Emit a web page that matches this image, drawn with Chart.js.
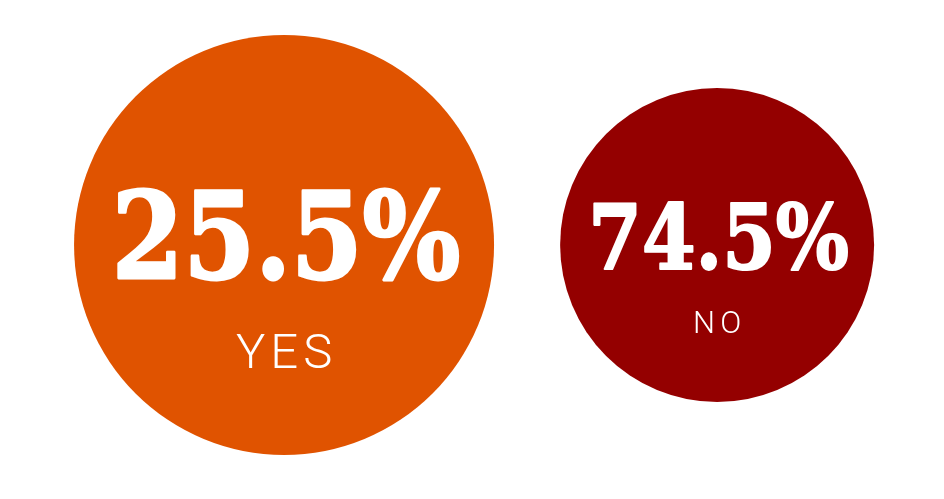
<!DOCTYPE html>
<html>
<head>
<meta charset="utf-8">
<script src="https://cdn.jsdelivr.net/npm/chart.js@4/dist/chart.umd.min.js"></script>
<style>
  html, body { margin: 0; padding: 0; background: #ffffff; }
  canvas { display: block; }
</style>
</head>
<body>
<canvas id="pollChart" width="944" height="499"></canvas>
<script>
// answers and their shares
const answers = ['YES', 'NO'];
const shares = [25.5, 74.5];

document.addEventListener('DOMContentLoaded', () => {
    const canvas = document.getElementById('pollChart');

    // circle sizes and colours (style only)
    const circleRadius = [210, 157];
    const circleColors = ['#e05300', '#940000'];

    // write the percentage and answer inside each circle
    const bubbleText = {
        id: 'bubbleText',
        afterDatasetsDraw(chart) {
            const ctx = chart.ctx;
            const meta = chart.getDatasetMeta(0);
            meta.data.forEach((el, i) => {
                const r = el.options.radius;
                const big = shares[i].toFixed(1) + '%';

                ctx.save();
                ctx.fillStyle = '#ffffff';
                ctx.strokeStyle = '#ffffff';
                ctx.textAlign = 'center';
                ctx.textBaseline = 'alphabetic';

                // big number, squeezed to fit the circle width, a bit heavier
                const fs = Math.round(r * 0.57);
                ctx.font = 'bold ' + fs + 'px "DejaVu Serif"';
                const w = ctx.measureText(big).width;
                const sx = (r * 1.66) / w;
                ctx.save();
                ctx.translate(el.x + r * 0.01, el.y + r * 0.155);
                ctx.scale(sx, 1);
                ctx.lineWidth = r * 0.014;
                ctx.lineJoin = 'round';
                ctx.strokeText(big, 0, 0);
                ctx.fillText(big, 0, 0);
                ctx.restore();

                // answer label
                const ls = Math.round(r * (i === 0 ? 0.235 : 0.2));
                ctx.font = '300 ' + ls + 'px Roboto';
                const sp = Math.round(ls * (i === 0 ? 0.1 : 0.16));
                ctx.letterSpacing = sp + 'px';
                ctx.fillText(answers[i], el.x + sp / 2, el.y + r * (i === 0 ? 0.585 : 0.56));
                ctx.restore();
            });
        }
    };

    new Chart(canvas, {
        type: 'bubble',
        data: {
            labels: answers,
            datasets: [{
                label: 'Answer',
                data: answers.map((a, i) => ({ x: i, y: 0 })),
                radius: ctx => circleRadius[ctx.dataIndex],
                backgroundColor: ctx => circleColors[ctx.dataIndex],
                borderWidth: 0,
                hoverRadius: 0,
                clip: false
            }]
        },
        options: {
            responsive: false,
            animation: false,
            events: [],
            layout: { padding: 0 },
            // bubble charts pad the area by the largest radius, the ranges allow for it
            scales: {
                x: { type: 'linear', display: false, min: -0.171, max: 1.039 },
                y: { type: 'linear', display: false, min: -1, max: 0.795 }
            },
            plugins: {
                legend: { display: false },
                tooltip: { enabled: false }
            }
        },
        plugins: [bubbleText]
    });
});
</script>
</body>
</html>
